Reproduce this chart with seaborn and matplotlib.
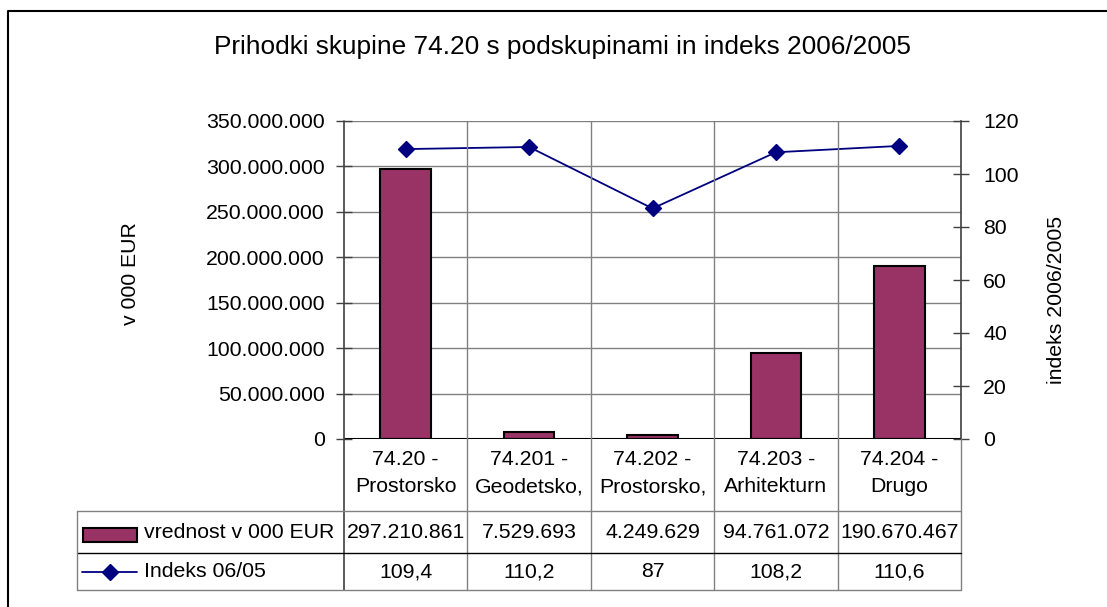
import matplotlib
matplotlib.use("Agg")
import matplotlib.pyplot as plt
import matplotlib.transforms as mtransforms
from matplotlib.patches import Rectangle
from matplotlib.lines import Line2D
import seaborn as sns
import pandas as pd

# data
categories = ["74.20 -\nProstorsko", "74.201 -\nGeodetsko,", "74.202 -\nProstorsko,",
              "74.203 -\nArhitekturn", "74.204 -\nDrugo"]
vrednost = [297210861, 7529693, 4249629, 94761072, 190670467]
indeks = [109.4, 110.2, 87, 108.2, 110.6]
bar_label = "vrednost v 000 EUR"
line_label = "Indeks 06/05"

df = pd.DataFrame({"kat": categories, "vrednost": vrednost, "indeks": indeks})

sns.set_theme(style="white")
plt.rcParams["font.family"] = ["Liberation Sans", "DejaVu Sans"]
plt.rcParams["text.color"] = "black"
plt.rcParams["ytick.labelcolor"] = "black"

W, H = 1107, 607
fig = plt.figure(figsize=(W / 100, H / 100), dpi=100)
fig.patch.set_facecolor("white")

def fy(px):
    return 1 - px / H

ax_l, ax_r, ax_t, ax_b = 344, 961, 121, 439
ax = fig.add_axes([ax_l / W, fy(ax_b), (ax_r - ax_l) / W, (ax_b - ax_t) / H])
ax2 = ax.twinx()

bar_color = "#993366"
line_color = "#000080"
grid_color = "#808080"
fs = 15.3

sns.barplot(data=df, x="kat", y="vrednost", ax=ax, color=bar_color,
            edgecolor="black", linewidth=1.5, width=0.41, saturation=1)
sns.pointplot(data=df, x="kat", y="indeks", ax=ax2, color=line_color,
              markers="D", markersize=8, linewidth=1.3)

ax.set_xlim(-0.5, len(categories) - 0.5)
ax.set_ylim(0, 350000000)
ax2.set_ylim(0, 120)
ax.set_yticks(range(0, 350000001, 50000000))
ax.set_yticklabels([f"{v:,}".replace(",", ".") for v in range(0, 350000001, 50000000)],
                   fontsize=fs, color="black")
ax2.set_yticks(range(0, 121, 20))
ax2.set_yticklabels([str(v) for v in range(0, 121, 20)], fontsize=fs, color="black")
ax.set_xticks([])
ax2.set_xticks([])
ax.set_xlabel("")
ax2.set_xlabel("")
ax.set_ylabel("")
ax2.set_ylabel("")
ax.tick_params(axis="y", direction="inout", length=12, width=1, color="#404040",
               pad=8, left=True)
ax2.tick_params(axis="y", direction="inout", length=12, width=1, color="#404040",
                pad=10, right=True)

ax.yaxis.grid(True, color=grid_color, linewidth=1)
ax.set_axisbelow(True)
for s in ["top", "bottom", "left", "right"]:
    ax.spines[s].set_visible(False)
    ax2.spines[s].set_visible(False)
ax2.spines["right"].set_visible(True)
ax2.spines["right"].set_color("#404040")
ax2.spines["right"].set_linewidth(1.2)
ax.axhline(0, color="black", linewidth=1.5, zorder=5)

# blended transform: x in data, y in figure
tr = mtransforms.blended_transform_factory(ax.transData, fig.transFigure)
trf = fig.transFigure

row_hdr, row1, row2, row_end = 439, 511, 553, 590
n = len(categories)

# left axis line extends through the table
fig.add_artist(Line2D([ax_l / W, ax_l / W], [fy(ax_t), fy(row_end)], transform=trf,
                      color="#404040", linewidth=1.2))
# category separators through plot and table
for i in range(1, n):
    fig.add_artist(Line2D([i - 0.5, i - 0.5], [fy(ax_t), fy(row_end)], transform=tr,
                          color=grid_color, linewidth=1))
fig.add_artist(Line2D([n - 0.5, n - 0.5], [fy(row_hdr), fy(row_end)], transform=tr,
                      color=grid_color, linewidth=1))
# table horizontal lines
tab_left = 77
for yy, c in [(row1, grid_color), (row2, "black"), (row_end, grid_color)]:
    fig.add_artist(Line2D([tab_left / W, ax_r / W], [fy(yy), fy(yy)], transform=trf,
                          color=c, linewidth=1))
fig.add_artist(Line2D([tab_left / W, tab_left / W], [fy(row1), fy(row_end)], transform=trf,
                      color=grid_color, linewidth=1))

def fmt_int(v):
    return f"{v:,}".replace(",", ".")

def fmt_idx(v):
    return str(int(v)) if float(v).is_integer() else str(v).replace(".", ",")

for i, cat in enumerate(categories):
    fig.text(i, fy(473), cat, transform=tr, ha="center", va="center",
             fontsize=fs, linespacing=1.55)
    fig.text(i, fy((row1 + row2) / 2), fmt_int(vrednost[i]), transform=tr,
             ha="center", va="center", fontsize=fs)
    fig.text(i, fy((row2 + row_end) / 2), fmt_idx(indeks[i]), transform=tr,
             ha="center", va="center", fontsize=fs)

# legend keys in the table
fig.add_artist(Rectangle((83 / W, fy(542)), 54 / W, 14 / H, transform=trf,
                         facecolor=bar_color, edgecolor="black", linewidth=1.5))
fig.text(144 / W, fy((row1 + row2) / 2), bar_label, ha="left", va="center", fontsize=fs)
ymid = fy((row2 + row_end) / 2)
fig.add_artist(Line2D([82 / W, 137 / W], [ymid, ymid], transform=trf,
                      color=line_color, linewidth=1.3))
fig.add_artist(Line2D([110 / W], [ymid], transform=trf, color=line_color,
                      marker="D", markersize=8, linestyle="none"))
fig.text(144 / W, ymid, line_label, ha="left", va="center", fontsize=fs)

# axis titles and chart title
fig.text(131 / W, fy(274), "v 000 EUR", rotation=90, ha="center", va="center", fontsize=fs)
fig.text(1056 / W, fy(300), "indeks 2006/2005", rotation=90, ha="center", va="center",
         fontsize=fs)
fig.text(563 / W, fy(47), "Prihodki skupine 74.20 s podskupinami in indeks 2006/2005",
         ha="center", va="center", fontsize=18.9)

# chart area border (only left and top visible)
fig.add_artist(Line2D([8 / W, 8 / W, 1.0], [0.0, fy(11), fy(11)], transform=trf,
                      color="black", linewidth=1.5))

fig.savefig("out.png", dpi=100)
